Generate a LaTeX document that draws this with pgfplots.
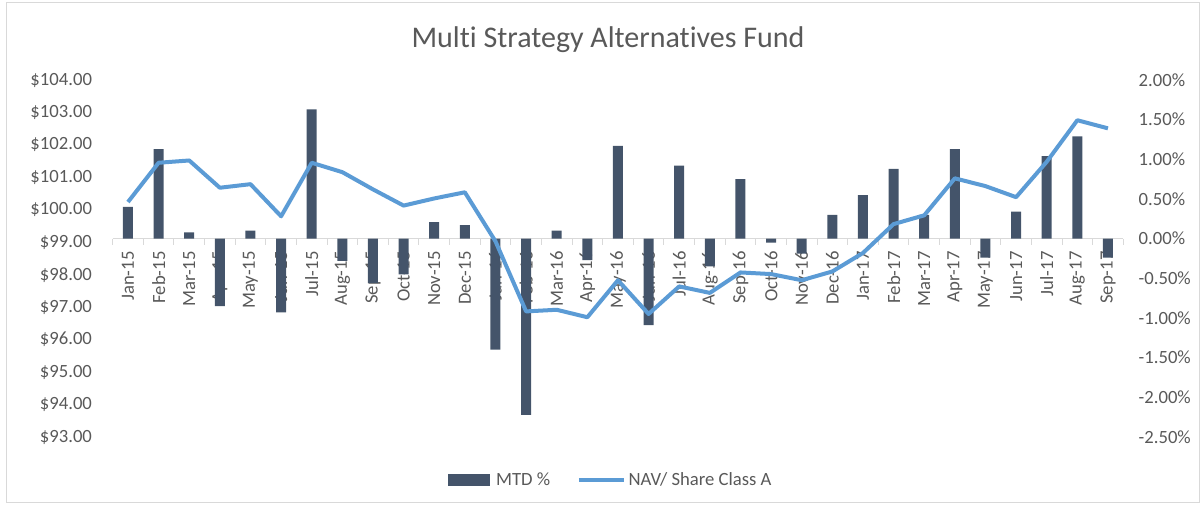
\documentclass[border=0pt]{standalone}
\usepackage{fontspec}
\setmainfont{Carlito}[Ligatures=NoCommon]
\usepackage{pgfplots}
\pgfplotsset{compat=1.18}
\definecolor{barcol}{RGB}{68,84,106}
\definecolor{linecol}{RGB}{91,155,213}
\definecolor{textgray}{RGB}{89,89,89}
\definecolor{axisgray}{RGB}{217,217,217}
\newcommand{\tickfont}{\fontsize{14}{16.5}\selectfont}
\begin{document}
\begin{tikzpicture}[x=0.75pt,y=0.75pt]
\useasboundingbox (0,0) rectangle (1203,506);
\draw[axisgray, line width=0.75pt] (6,3) rectangle (1199,503);
\pgfplotsset{
  common/.style={
    scale only axis, width=757.95pt, height=267.75pt,
    at={(84.5pt,51.75pt)}, anchor=south west,
    xmin=-0.5, xmax=32.5,
    /pgf/number format/assume math mode=true,
    tick label style={font=\tickfont, text=textgray},
  }
}
% axis 0: category axis with labels
\begin{axis}[common,
  ymin=-2.5, ymax=2.0,
  axis x line=middle, axis y line=none,
  x axis line style={-, draw=axisgray, line width=0.75pt},
  hide obscured x ticks=false,
  xtick={0,...,32},
  xticklabels={Jan-15,Feb-15,Mar-15,Apr-15,May-15,Jun-15,Jul-15,Aug-15,Sep-15,Oct-15,Nov-15,Dec-15,
    Jan-16,Feb-16,Mar-16,Apr-16,May-16,Jun-16,Jul-16,Aug-16,Sep-16,Oct-16,Nov-16,Dec-16,
    Jan-17,Feb-17,Mar-17,Apr-17,May-17,Jun-17,Jul-17,Aug-17,Sep-17},
  xticklabel style={rotate=90, anchor=east, xshift=-6pt},
  major tick length=0pt,
  minor xtick={-0.5,0.5,...,32.5},
  minor tick length=4.5pt,
  tick align=outside,
  minor x tick style={draw=axisgray, line width=0.75pt},
  ytick=\empty,
]
\addplot[draw=none] coordinates {(0,0)};
\end{axis}
% axis 1: bars, right axis
\begin{axis}[common,
  ymin=-2.5, ymax=2.0,
  axis x line=none, axis y line*=right,
  y axis line style={draw=none},
  xtick=\empty,
  ytick={-2.5,-2,...,2},
  major tick length=0pt,
  yticklabel={\pgfmathprintnumber[fixed,fixed zerofill,precision=2]{\tick}\%},
  yticklabel style={anchor=west, xshift=8pt},
]
\addplot[ybar, bar width=7.5pt, fill=barcol, draw=none] coordinates {
(0,0.40) (1,1.13) (2,0.08) (3,-0.85) (4,0.10) (5,-0.93) (6,1.63) (7,-0.28) (8,-0.56) (9,-0.45) (10,0.21) (11,0.17)
(12,-1.40) (13,-2.22) (14,0.10) (15,-0.27) (16,1.17) (17,-1.09) (18,0.92) (19,-0.35) (20,0.75) (21,-0.05) (22,-0.19) (23,0.30)
(24,0.55) (25,0.88) (26,0.30) (27,1.13) (28,-0.24) (29,0.34) (30,1.04) (31,1.29) (32,-0.24)
};
\end{axis}
% axis 2: NAV line, left axis, legend
\begin{axis}[common,
  ymin=93, ymax=104,
  axis x line=none, axis y line*=left,
  y axis line style={draw=none},
  xtick=\empty,
  ytick={93,...,104},
  major tick length=0pt,
  yticklabel={\$\pgfmathprintnumber[fixed,fixed zerofill,precision=2]{\tick}},
  yticklabel style={anchor=east, xshift=-12pt},
  legend columns=2,
  legend style={at={(axis description cs:0.493,-0.1204)}, anchor=center,
    draw=none, fill=none, font=\tickfont, text=textgray,
    /tikz/every even column/.append style={column sep=18pt}},
]
\addlegendimage{legend image code/.code={\fill[barcol] (0pt,-4.1pt) rectangle (30.75pt,4.1pt); \path (34pt,0pt);}}
\addlegendentry{MTD \%}
\addplot[linecol, line width=3pt, line join=round,
  legend image code/.code={\draw[linecol, line width=3pt] (0pt,0pt) -- (33.75pt,0pt);}] coordinates {
(0,100.24) (1,101.45) (2,101.52) (3,100.68) (4,100.79) (5,99.80) (6,101.45) (7,101.16) (8,100.63) (9,100.13) (10,100.35) (11,100.54)
(12,99.03) (13,96.87) (14,96.92) (15,96.69) (16,97.83) (17,96.79) (18,97.64) (19,97.44) (20,98.07) (21,98.02) (22,97.83) (23,98.10)
(24,98.67) (25,99.56) (26,99.83) (27,100.97) (28,100.73) (29,100.39) (30,101.48) (31,102.76) (32,102.51)
};
\addlegendentry{NAV/ Share Class A}
\end{axis}
\node[anchor=base, text=textgray, font=\fontsize{22.5}{27}\selectfont] at (608,458) {Multi Strategy Alternatives Fund};
\end{tikzpicture}
\end{document}
